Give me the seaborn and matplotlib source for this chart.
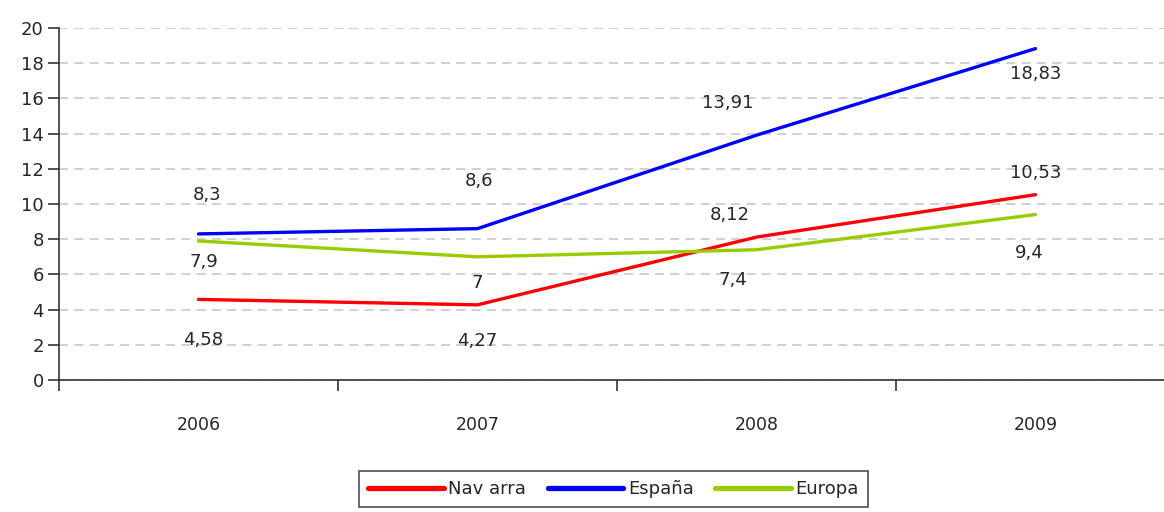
import matplotlib
matplotlib.use("Agg")
import matplotlib.pyplot as plt
import numpy as np
import pandas as pd
import seaborn as sns

# dati
anni = ["2006", "2007", "2008", "2009"]
navarra = [4.58, 4.27, 8.12, 10.53]
espana = [8.3, 8.6, 13.91, 18.83]
europa = [7.9, 7.0, 7.4, 9.4]
serie = ["Navarra", "España", "Europa"]
etichette_legenda = ["Nav arra", "España", "Europa"]
colori = ["#FF0000", "#0000FF", "#99CC00"]

df = pd.DataFrame({
    "anno": anni * 3,
    "x": list(range(len(anni))) * 3,
    "valore": navarra + espana + europa,
    "serie": [s for s in serie for _ in anni],
})

sns.set_style("white")
plt.rcParams["font.family"] = ["DejaVu Sans"]

fig = plt.figure(figsize=(11.64, 5.12), dpi=100)
ax = fig.add_axes([59 / 1164, 132 / 512, 1116 / 1164, 352 / 512])

sns.lineplot(data=df, x="x", y="valore", hue="serie", hue_order=serie,
             palette=colori, linewidth=2.4, ax=ax, legend=False)

# etichette dei valori (spostamento in pixel rispetto al punto)
spost = {
    "Navarra": [(5, -41), (0, -36), (-27, 22), (0, 22)],
    "España": [(9, 39), (2, 48), (-29, 32), (0, -25)],
    "Europa": [(5, -21), (0, -26), (-24, -30), (-6, -38)],
}
for s, valori in zip(serie, [navarra, espana, europa]):
    for i, v in enumerate(valori):
        dx, dy = spost[s][i]
        testo = f"{v:g}".replace(".", ",")
        ax.annotate(testo, (i, v), xytext=(dx * 0.72, dy * 0.72),
                    textcoords="offset points", ha="center", va="center",
                    fontsize=13, color="#262626")

ax.set_xlim(-0.5, 3.5)
ax.set_ylim(0, 20)
ax.set_yticks(np.arange(0, 21, 2))
ax.set_xticks(range(len(anni)))
ax.set_xticklabels(anni)
ax.set_xticks([-0.5, 0.5, 1.5, 2.5], minor=True)
ax.tick_params(axis="x", which="major", bottom=True, length=0, pad=26,
               labelsize=12.5, colors="#262626")
ax.tick_params(axis="x", which="minor", bottom=True, length=8, width=1.2,
               direction="out", color="#333333")
ax.tick_params(axis="y", left=True, length=8, width=1.2, direction="out", color="#333333",
               labelsize=13, labelcolor="#262626", pad=3)
ax.set_xlabel("")
ax.set_ylabel("")

ax.grid(axis="y", color="#C4C4C4", linestyle=(0, (6, 4)), linewidth=1.1)
ax.set_axisbelow(True)
for lato in ["top", "right"]:
    ax.spines[lato].set_visible(False)
for lato in ["left", "bottom"]:
    ax.spines[lato].set_color("#333333")
    ax.spines[lato].set_linewidth(1.2)

maniglie = [plt.Line2D([], [], color=c, linewidth=3.8, solid_capstyle="round") for c in colori]
leg = fig.legend(maniglie, etichette_legenda, loc="upper center",
                 bbox_to_anchor=(0.527, 50 / 512), ncol=3, fontsize=13,
                 handlelength=4.2, handletextpad=0.25, columnspacing=1.2,
                 frameon=True, fancybox=False, borderpad=0.5, labelcolor="#262626")
leg.get_frame().set_edgecolor("#222222")
leg.get_frame().set_linewidth(1.2)

fig.savefig("out.png", dpi=100)
